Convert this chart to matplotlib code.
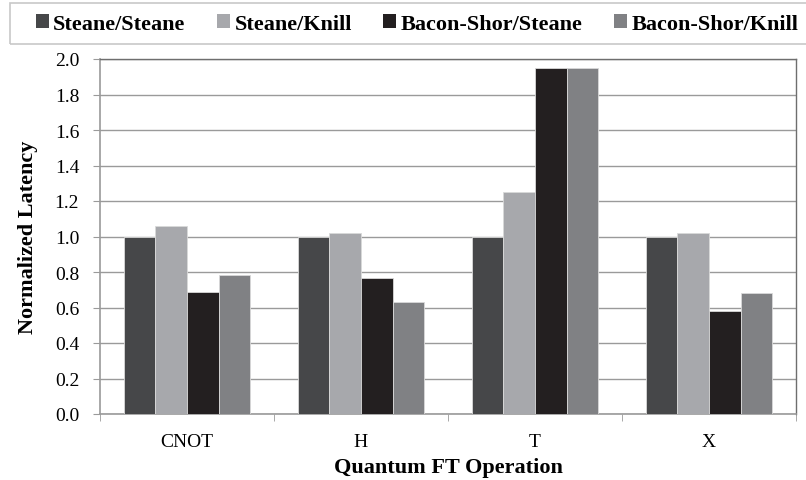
import numpy as np
import matplotlib
matplotlib.use('Agg')
import matplotlib.pyplot as plt
from matplotlib.patches import Rectangle

# data
operations = ['CNOT', 'H', 'T', 'X']
series_names = ['Steane/Steane', 'Steane/Knill', 'Bacon-Shor/Steane', 'Bacon-Shor/Knill']
steane_steane = [1.00, 1.00, 1.00, 1.00]
steane_knill = [1.06, 1.02, 1.25, 1.02]
bacon_steane = [0.686, 0.765, 1.95, 0.58]
bacon_knill = [0.785, 0.629, 1.95, 0.684]
colors = ['#464749', '#a7a8ac', '#231f20', '#808184']

plt.rcParams['font.family'] = ['Liberation Serif', 'DejaVu Serif']

fig = plt.figure(figsize=(8.06, 4.81), dpi=100)
ax = fig.add_axes([100/806, 66/481, 696/806, 355/481])

x = np.arange(len(operations))
bw = 1/5.5
series = [steane_steane, steane_knill, bacon_steane, bacon_knill]
for i, vals in enumerate(series):
    ax.bar(x + (i - 1.5)*bw, vals, width=bw, color=colors[i],
           edgecolor='#d9d9d9', linewidth=0.6, label=series_names[i], zorder=3)

ax.set_xlim(-0.5, 3.5)
ax.set_ylim(0, 2.0)
ax.set_yticks(np.arange(0, 2.01, 0.2))
ax.set_yticklabels(['%.1f' % v for v in np.arange(0, 2.01, 0.2)], fontsize=14)
ax.set_xticks(x)
ax.set_xticklabels(operations, fontsize=14)
ax.set_xticks(np.arange(-0.5, 3.6, 1.0), minor=True)
ax.tick_params(axis='x', which='major', length=0, pad=14)
ax.tick_params(axis='x', which='minor', length=5, color='#9a9a9a', direction='out')
ax.tick_params(axis='y', length=5, color='#9a9a9a', direction='out', pad=10)
ax.yaxis.grid(True, color='#9a9a9a', linewidth=1.0, zorder=0)
ax.set_axisbelow(True)
for s in ['left', 'bottom']:
    ax.spines[s].set_color('#9a9a9a')
    ax.spines[s].set_linewidth(1.2)
for s in ['top', 'right']:
    ax.spines[s].set_color('#6e6e6e')
    ax.spines[s].set_linewidth(1.0)

ax.set_xlabel('Quantum FT Operation', fontsize=16, fontweight='bold', labelpad=5)
ax.set_ylabel('Normalized Latency', fontsize=16, fontweight='bold', labelpad=12)

# legend box across the top
fig.patches.append(Rectangle((10/806, 1 - 45/481), 800/806, 41/481,
                             transform=fig.transFigure, fill=False,
                             edgecolor='#c8c8c8', linewidth=1.2))
handles, labels = ax.get_legend_handles_labels()
leg = fig.legend(handles, labels, loc='center', bbox_to_anchor=(417/806, 1 - 25/481),
                 ncol=4, frameon=False, borderpad=0,
                 prop={'weight': 'bold', 'size': 16},
                 handlelength=0.6, handleheight=0.6, handletextpad=0.2,
                 columnspacing=1.4)
for h in leg.legend_handles:
    h.set_edgecolor('none')

fig.savefig('out.png', dpi=100)
